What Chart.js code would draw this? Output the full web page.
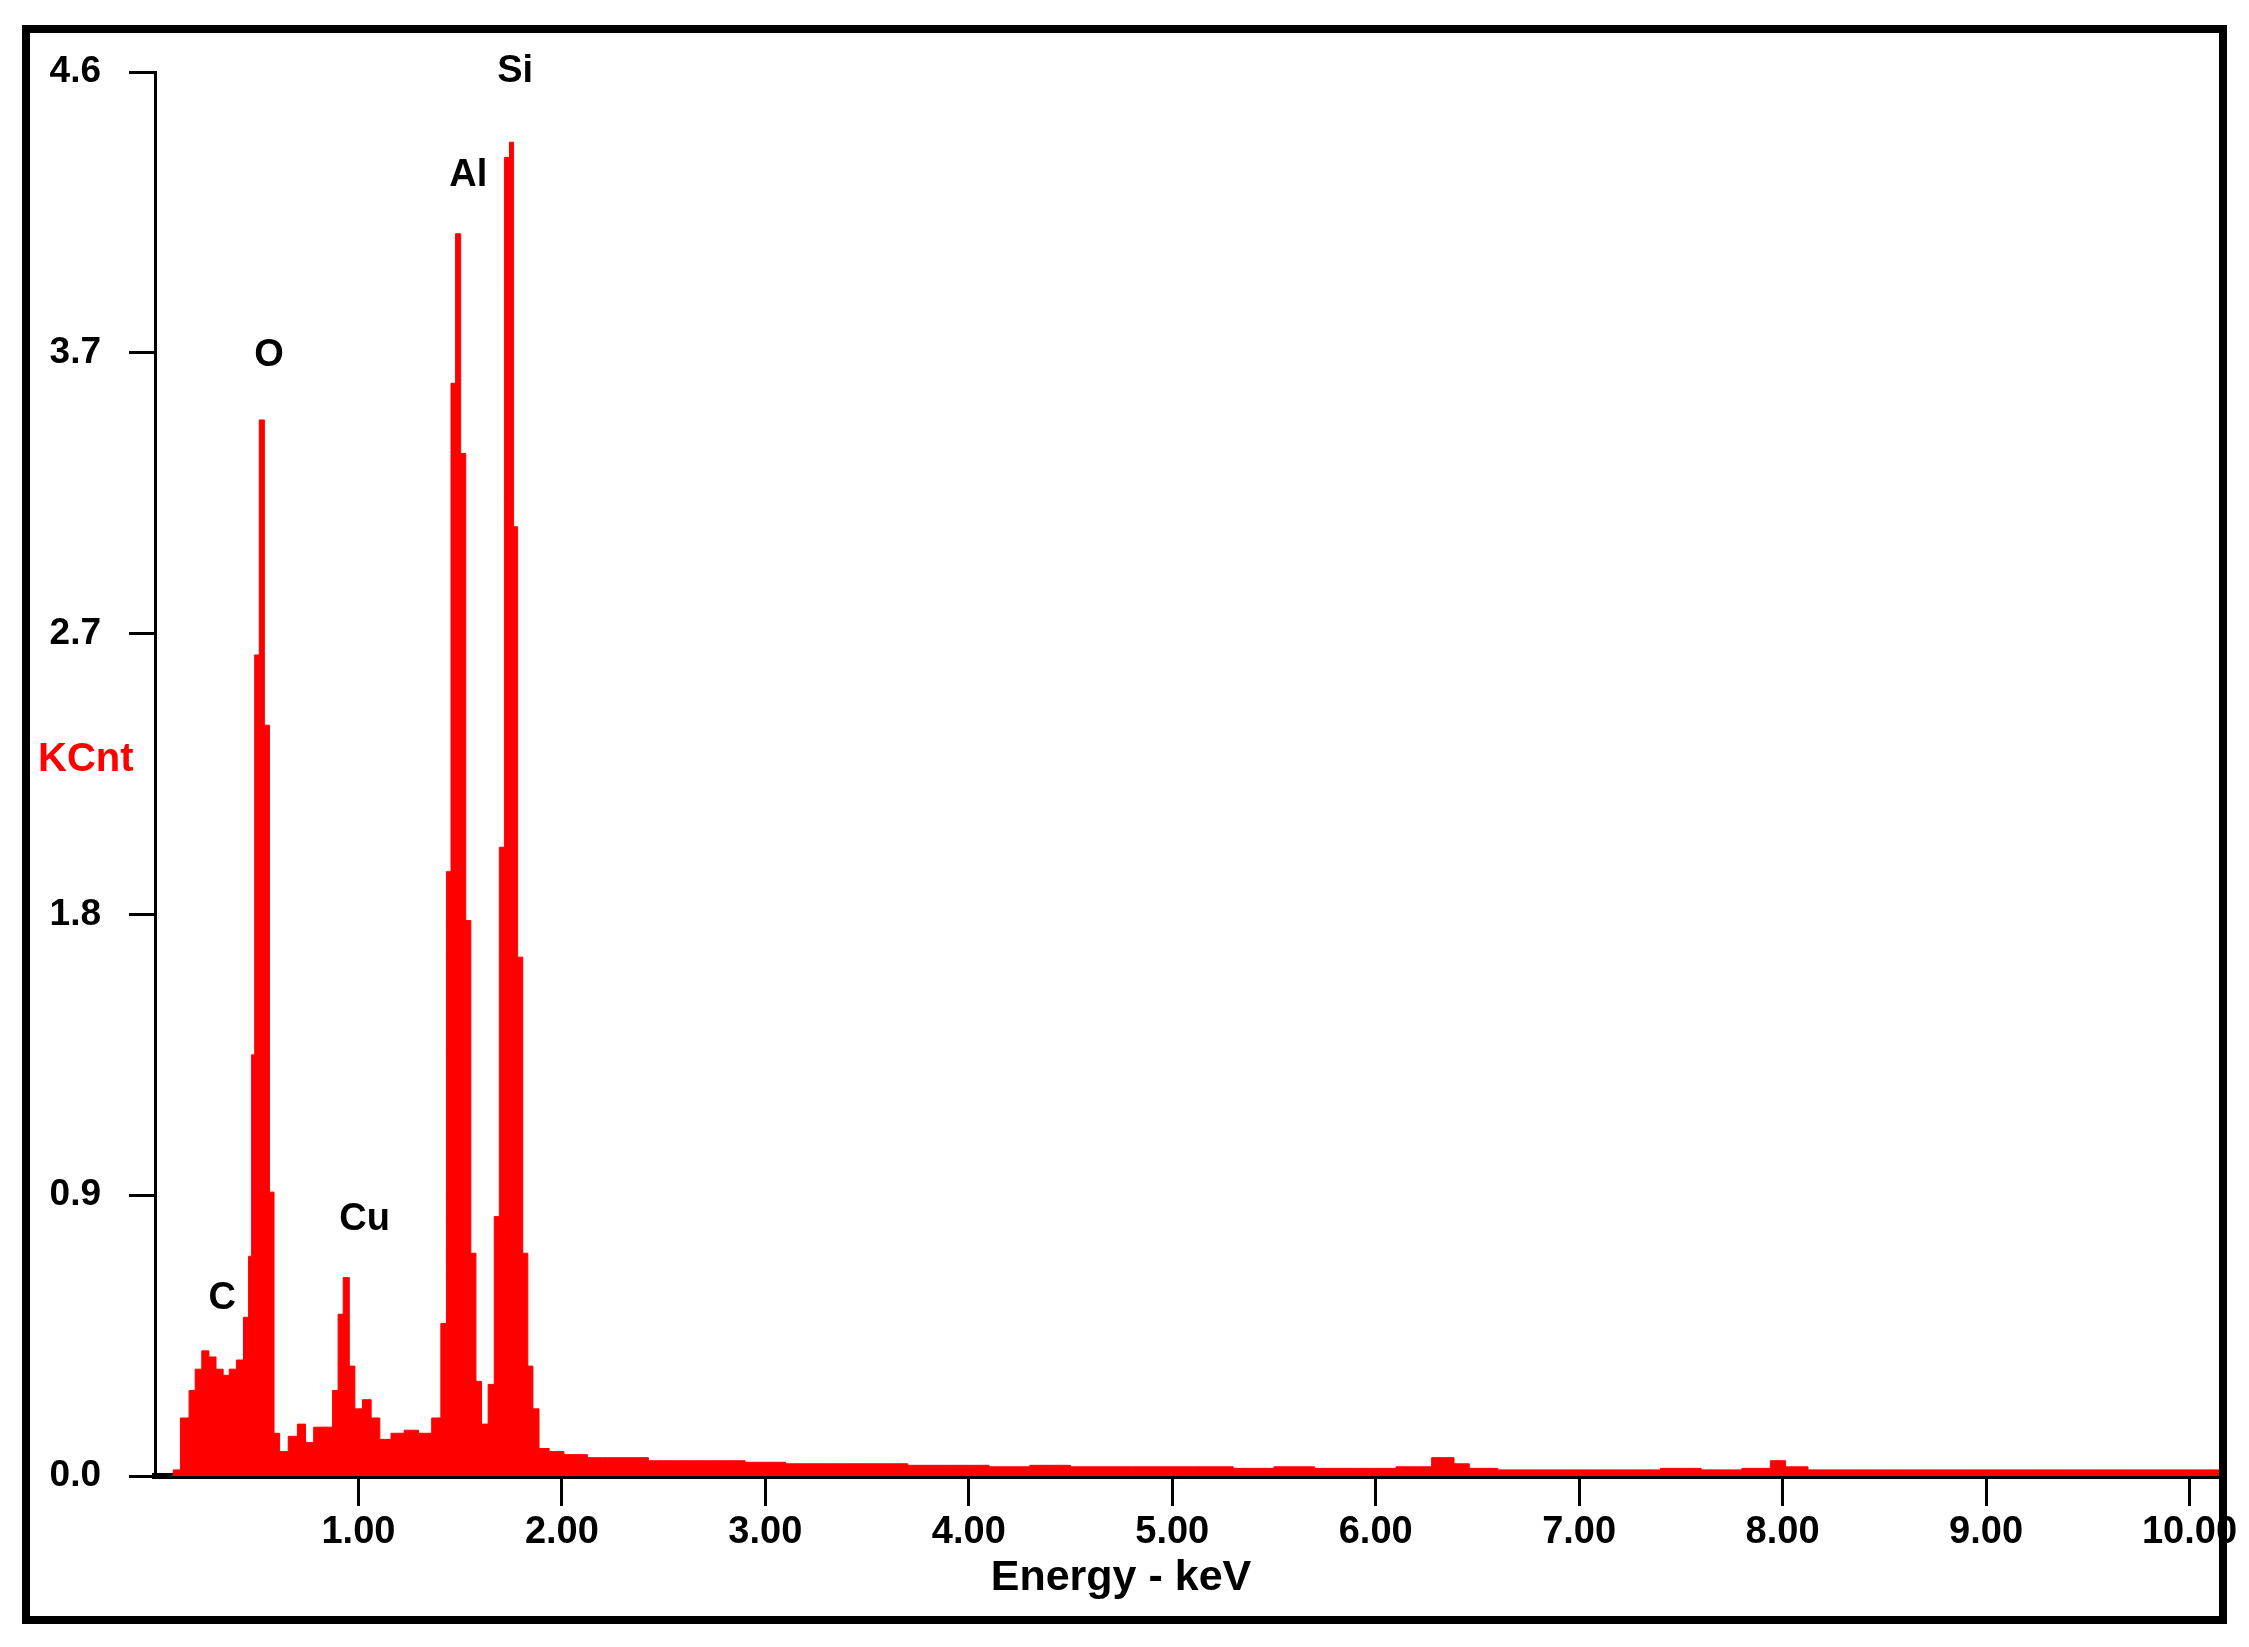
<!DOCTYPE html>
<html>
<head>
<meta charset="utf-8">
<script src="https://cdn.jsdelivr.net/npm/chart.js@4"></script>
<style>
  html, body { margin: 0; padding: 0; background: #fff; }
  canvas { display: block; }
</style>
</head>
<body>
<canvas id="eds" width="2249" height="1647"></canvas>
<script>
// spectrum channels (keV) and counts (KCnt)
const energy = [0.08, 0.10, 0.15, 0.185, 0.21, 0.25, 0.28, 0.32, 0.35, 0.38, 0.42, 0.45, 0.47, 0.48, 0.50, 0.525,
  0.55, 0.575, 0.595, 0.63, 0.68, 0.72, 0.76, 0.80, 0.855, 0.89, 0.91, 0.94, 0.97, 0.995, 1.045, 1.08,
  1.13, 1.19, 1.26, 1.33, 1.39, 1.42, 1.445, 1.465, 1.49, 1.515, 1.54, 1.565, 1.59, 1.62, 1.655, 1.68,
  1.705, 1.73, 1.755, 1.77, 1.795, 1.82, 1.845, 1.87, 1.905, 1.97, 2.05, 2.2, 2.35, 2.5, 2.65, 2.8,
  3.0, 3.2, 3.4, 3.6, 3.8, 4.0, 4.2, 4.4, 4.6, 4.8, 5.0, 5.2, 5.4, 5.6, 5.8, 6.0, 6.2, 6.35, 6.42, 6.5,
  6.7, 6.9, 7.1, 7.3, 7.5, 7.7, 7.9, 7.98, 8.05, 8.2, 8.4, 8.6, 8.8, 9.0, 9.2, 9.4, 9.6, 9.8, 10.0, 10.15];
const counts = [0.0, 0.02, 0.19, 0.28, 0.35, 0.41, 0.39, 0.35, 0.33, 0.35, 0.38, 0.52, 0.72, 1.38, 2.69, 3.46,
  2.46, 0.93, 0.14, 0.08, 0.13, 0.17, 0.11, 0.16, 0.16, 0.28, 0.53, 0.65, 0.36, 0.22, 0.25, 0.19,
  0.12, 0.14, 0.15, 0.14, 0.19, 0.50, 1.98, 3.58, 4.07, 3.35, 1.82, 0.73, 0.31, 0.17, 0.30, 0.85,
  2.06, 4.32, 4.37, 3.11, 1.70, 0.73, 0.36, 0.22, 0.09, 0.08, 0.07, 0.06, 0.06, 0.05, 0.05, 0.05,
  0.045, 0.04, 0.04, 0.04, 0.035, 0.035, 0.03, 0.035, 0.03, 0.03, 0.03, 0.03, 0.025, 0.03, 0.025, 0.025, 0.03, 0.06, 0.04, 0.025,
  0.02, 0.02, 0.02, 0.02, 0.025, 0.02, 0.025, 0.05, 0.03, 0.02, 0.02, 0.02, 0.02, 0.02, 0.02, 0.02, 0.02, 0.02, 0.02, 0.02];
const yTicks = [0, 0.92, 1.84, 2.76, 3.68, 4.6];
const yTickLabels = ['0.0', '0.9', '1.8', '2.7', '3.7', '4.6'];
const xTicks = [1, 2, 3, 4, 5, 6, 7, 8, 9, 10];
const peakNames = ['C', 'O', 'Cu', 'Al', 'Si'];
const peakX = [0.33, 0.56, 1.03, 1.54, 1.77];
const peakY = [0.58, 3.67, 0.84, 4.26, 4.6];

const FONT = '"Liberation Sans", Arial, sans-serif';

const decor = {
  id: 'decor',
  afterDraw(chart) {
    const ctx = chart.ctx, x = chart.scales.x, y = chart.scales.y;
    ctx.save();
    ctx.fillStyle = '#000';
    ctx.textAlign = 'center';
    ctx.textBaseline = 'middle';
    ctx.font = 'bold 38px ' + FONT;
    peakNames.forEach((n, i) => {
      ctx.fillText(n, x.getPixelForValue(peakX[i]), y.getPixelForValue(peakY[i]));
    });
    ctx.font = 'bold 43px ' + FONT;
    ctx.fillText('Energy - keV', 1121, 1578);
    ctx.fillStyle = '#ff0000';
    ctx.textAlign = 'left';
    ctx.font = 'bold 40px ' + FONT;
    ctx.fillText('KCnt', 38, 760);
    ctx.strokeStyle = '#000';
    ctx.lineWidth = 8;
    ctx.strokeRect(26, 29, 2197, 1591);
    ctx.restore();
  }
};

new Chart(document.getElementById('eds'), {
  type: 'line',
  data: {
    datasets: [{
      data: energy.map((e, i) => ({ x: e, y: counts[i] })),
      stepped: 'middle',
      fill: 'origin',
      backgroundColor: '#ff0000',
      borderColor: '#ff0000',
      borderWidth: 1,
      pointRadius: 0
    }]
  },
  options: {
    responsive: false,
    animation: false,
    devicePixelRatio: 1,
    layout: { padding: { left: 0, top: 72, right: 29, bottom: 0 } },
    plugins: { legend: { display: false }, tooltip: { enabled: false } },
    scales: {
      x: {
        type: 'linear', min: 0, max: 10.15,
        afterFit(s) { s.height = 171; },
        afterBuildTicks(s) { s.ticks = xTicks.map(v => ({ value: v })); },
        border: { color: '#000', width: 6 },
        grid: { drawOnChartArea: false, color: '#000', lineWidth: 3, tickLength: 30 },
        ticks: {
          color: '#000', padding: 4, maxRotation: 0, autoSkip: false,
          font: { family: FONT, size: 38, weight: 'bold' },
          callback: v => v.toFixed(2)
        }
      },
      y: {
        min: 0, max: 4.6,
        afterFit(s) { s.width = 155; },
        afterBuildTicks(s) { s.ticks = yTicks.map(v => ({ value: v })); },
        border: { color: '#000', width: 3 },
        grid: { drawOnChartArea: false, color: '#000', lineWidth: 3, tickLength: 26 },
        ticks: {
          color: '#000', padding: 28,
          font: { family: FONT, size: 37, weight: 'bold' },
          callback: (v, i) => yTickLabels[i]
        }
      }
    }
  },
  plugins: [decor]
});
</script>
</body>
</html>
